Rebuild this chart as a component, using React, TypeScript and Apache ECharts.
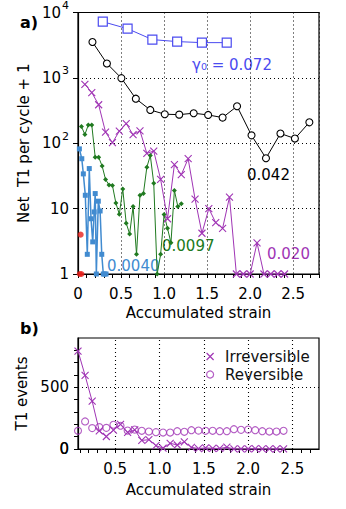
import React, { useEffect, useRef } from 'react';
import * as echarts from 'echarts';

// ---------- Panel a: net T1 per cycle + 1 ----------
const strain072 = [0.288, 0.576, 0.864, 1.152, 1.44, 1.728];
const net072 = [7230, 5650, 3850, 3590, 3460, 3460];

const strain042 = [0.168, 0.336, 0.504, 0.672, 0.84, 1.008, 1.176, 1.344, 1.512, 1.68, 1.848, 2.016, 2.184, 2.352, 2.52, 2.688];
const net042 = [3535, 1660, 990, 480, 323, 278, 274, 288, 271, 247, 368, 132, 59, 141, 118, 209];

const strain020 = [0.08, 0.16, 0.24, 0.32, 0.40, 0.48, 0.56, 0.64, 0.72, 0.80, 0.88, 0.96, 1.04, 1.12, 1.20, 1.28, 1.36, 1.44, 1.52, 1.60, 1.68, 1.76, 1.84, 1.92, 2.00, 2.08, 2.16, 2.24, 2.32, 2.40];
const net020 = [795, 597, 388, 148, 102, 153, 200, 135, 155, 70, 76, 28, 7, 47, 33, 58, 14, 4.2, 10, 6.1, 5, 15, 1, 1, 1, 3, 1, 1, 1, 1];

const strain0097 = [0.04, 0.08, 0.12, 0.16, 0.20, 0.24, 0.28, 0.32, 0.36, 0.40, 0.44, 0.48, 0.52, 0.56, 0.60, 0.64, 0.68, 0.72, 0.76, 0.80, 0.84, 0.88, 0.92, 0.96, 1.00, 1.04, 1.08, 1.12, 1.16, 1.20];
const net0097 = [180, 136, 191, 191, 61, 61, 45, 28, 23, 22.6, 12.2, 8.2, 20, 6, 4.1, 10.8, 2, 16, 17, 43, 65, 24.5, 1, 2, 8.1, 5, 3, 19, 10.8, 11.9];

const strain0040 = [0.016, 0.044, 0.062, 0.085, 0.108, 0.131, 0.151, 0.171, 0.188, 0.200, 0.213, 0.236, 0.257, 0.276, 0.294, 0.310, 0.326];
const net0040 = [82, 58, 34, 16, 2, 41, 7, 3.1, 8.9, 17, 1, 13, 9.2, 2, 1, 1, 1];

const strainRed = [0.02, 0.031, 0.04];
const netRed = [1, 4, 1];

// ---------- Panel b: T1 events ----------
const strainB = [0.08, 0.16, 0.24, 0.32, 0.40, 0.48, 0.56, 0.64, 0.72, 0.80, 0.88, 0.96, 1.04, 1.12, 1.20, 1.28, 1.36, 1.44, 1.52, 1.60, 1.68, 1.76, 1.84, 1.92, 2.00, 2.08, 2.16, 2.24, 2.32, 2.40];
const irreversible = [794, 596, 387, 147, 101, 152, 199, 134, 154, 69, 75, 27, 6, 46, 32, 57, 13, 3, 9, 5, 4, 14, 0, 0, 0, 2, 0, 0, 0, 0];
const reversible = [147, 223, 169, 177, 171, 196, 188, 149, 157, 147, 141, 136, 133, 133, 144, 139, 152, 149, 147, 147, 144, 144, 160, 155, 157, 152, 144, 141, 141, 147];

// tick values
const ticksBMinor = [0.1, 0.2, 0.3, 0.4, 0.5, 0.6, 0.7, 0.8, 0.9, 1.0, 1.1, 1.2, 1.3, 1.4, 1.5, 1.6, 1.7, 1.8, 1.9, 2.0, 2.1, 2.2, 2.3, 2.4, 2.5, 2.6, 2.7];
const ticksBMajor = [0.5, 1.0, 1.5, 2.0, 2.5];
const yTicksB = [0, 100, 200, 300, 400, 500, 600, 700, 800];
const yLabelsB = [0, 500];
const yGridB = [500];

const FONT = 'DejaVu Sans';
const BLUE = '#4b4bf0';
const PURPLE = '#a035b5';
const GREEN = '#207a20';
const LBLUE = '#418bd0';
const RED = '#e8201c';
const XPATH = 'path://M0,0L10,10M10,0L0,10';
const DOT: any = [1, 3];

const pairs = (xs: number[], ys: number[]) => xs.map((x, i) => [x, ys[i]]);

function buildOption(): any {
  const axisLineStyle = { show: true, onZero: false, lineStyle: { color: '#000', width: 1.2 } };
  const xFmt = (v: number) => {
    const r = Math.round(v * 10);
    if (r % 5 !== 0 || r >= 28) return '';
    return r === 0 ? '0' : (r / 10).toFixed(1);
  };
  const dotted = { color: '#000', type: DOT, width: 1.1 };
  return {
    animation: false,
    backgroundColor: '#fff',
    textStyle: { fontFamily: FONT },
    grid: [
      { left: 78, top: 11, width: 241, height: 263, show: true, borderColor: '#000', borderWidth: 1.2 },
      { left: 78, top: 338, width: 241, height: 111, show: true, borderColor: '#000', borderWidth: 1.2 },
    ],
    xAxis: [
      {
        gridIndex: 0, type: 'value', min: 0, max: 2.8, interval: 0.1, position: 'bottom',
        axisLine: axisLineStyle,
        axisTick: { show: true, length: 4, lineStyle: { color: '#000' } },
        axisLabel: { formatter: xFmt, margin: 12, fontSize: 15, color: '#000', fontFamily: FONT, showMinLabel: true },
        splitLine: { show: false },
        name: 'Accumulated strain', nameLocation: 'middle', nameGap: 29,
        nameTextStyle: { fontSize: 15, color: '#000', fontFamily: FONT },
      },
      {
        gridIndex: 0, type: 'value', min: 0, max: 2.8, interval: 0.5, position: 'bottom',
        axisLine: { show: false, onZero: false }, axisTick: { show: false }, axisLabel: { show: false },
        splitLine: { show: true, lineStyle: dotted },
      },
      {
        gridIndex: 1, type: 'value', min: 0.08, max: 2.8, position: 'bottom',
        axisLine: axisLineStyle,
        axisTick: { show: true, length: 4, customValues: ticksBMinor, lineStyle: { color: '#000' } },
        axisLabel: { customValues: ticksBMajor, formatter: (v: number) => v.toFixed(1), margin: 12, fontSize: 15, color: '#000', fontFamily: FONT },
        splitLine: { show: false },
        name: 'Accumulated strain', nameLocation: 'middle', nameGap: 33,
        nameTextStyle: { fontSize: 15, color: '#000', fontFamily: FONT },
      },
    ],
    yAxis: [
      {
        gridIndex: 0, type: 'log', logBase: 10, min: 1, max: 10000,
        axisLine: axisLineStyle,
        axisTick: { show: true, length: 5, lineStyle: { color: '#000' } },
        axisLabel: {
          margin: 9, color: '#000', fontSize: 15, fontFamily: FONT, showMinLabel: true,
          formatter: (v: number) => {
            const e = Math.round(Math.log10(v));
            if (e === 0) return '1';
            if (e === 1) return '10';
            return '{b|10}{s|' + e + '}';
          },
          rich: {
            b: { fontSize: 15, fontFamily: FONT, color: '#000', verticalAlign: 'middle' },
            s: { fontSize: 11, fontFamily: FONT, color: '#000', verticalAlign: 'middle', padding: [0, 0, 14, 1] },
          },
        },
        splitLine: { show: true, lineStyle: dotted },
        name: 'Net  T1 per cycle + 1', nameLocation: 'middle', nameGap: 44, nameRotate: 90,
        nameTextStyle: { fontSize: 15, color: '#000', fontFamily: FONT },
      },
      {
        gridIndex: 1, type: 'value', min: -0.5, max: 900, position: 'left',
        axisLine: axisLineStyle,
        axisTick: { show: true, length: 4, customValues: yTicksB, lineStyle: { color: '#000' } },
        axisLabel: {
          margin: 9, color: '#000', fontSize: 15, fontFamily: FONT,
          customValues: yLabelsB, showMinLabel: true,
          formatter: (v: number) => String(v),
        },
        splitLine: { show: false },
        name: 'T1 events', nameLocation: 'middle', nameGap: 45, nameRotate: 90,
        nameTextStyle: { fontSize: 15, color: '#000', fontFamily: FONT },
      },
    ],
    legend: {
      orient: 'vertical', left: 201, top: 344, itemWidth: 20, itemHeight: 7, itemGap: 3,
      textStyle: { fontSize: 15, color: '#111', fontFamily: FONT },
      data: [
        { name: 'Irreversible', icon: XPATH, itemStyle: { color: 'transparent', borderColor: PURPLE, borderWidth: 1.2 } },
        { name: 'Reversible', icon: 'circle', itemStyle: { color: 'transparent', borderColor: PURPLE, borderWidth: 1.2 } },
      ],
    },
    graphic: [
      { type: 'text', x: 20, y: 22, style: { text: 'a)', fontSize: 16, fontWeight: 'bold', fontFamily: FONT, fill: '#000', verticalAlign: 'middle' } },
      { type: 'text', x: 20, y: 328, style: { text: 'b)', fontSize: 16, fontWeight: 'bold', fontFamily: FONT, fill: '#000', verticalAlign: 'middle' } },
      { type: 'text', x: 69, y: 449, z: 100, style: { text: '0', fontSize: 15, fontFamily: FONT, fill: '#000', align: 'right', verticalAlign: 'middle' } },
      { type: 'text', x: 192, y: 65, style: { text: 'γ₀ = 0.072', fontSize: 15, fontFamily: FONT, fill: BLUE, verticalAlign: 'middle' } },
      { type: 'text', x: 247, y: 175, style: { text: '0.042', fontSize: 15, fontFamily: FONT, fill: '#000', verticalAlign: 'middle' } },
      { type: 'text', x: 267, y: 254, style: { text: '0.020', fontSize: 15, fontFamily: FONT, fill: PURPLE, verticalAlign: 'middle' } },
      { type: 'text', x: 162, y: 246, style: { text: '0.0097', fontSize: 15, fontFamily: FONT, fill: GREEN, verticalAlign: 'middle' } },
      { type: 'text', x: 107, y: 266, style: { text: '0.0040', fontSize: 15, fontFamily: FONT, fill: LBLUE, verticalAlign: 'middle' } },
    ],
    series: [
      {
        name: '0.072', type: 'line', xAxisIndex: 0, yAxisIndex: 0, clip: false,
        data: pairs(strain072, net072), symbol: 'rect', symbolSize: 9,
        itemStyle: { color: '#fff', borderColor: BLUE, borderWidth: 1.2 },
        lineStyle: { color: BLUE, width: 1 },
      },
      {
        name: '0.042', type: 'line', xAxisIndex: 0, yAxisIndex: 0, clip: false,
        data: pairs(strain042, net042), symbol: 'circle', symbolSize: 7,
        itemStyle: { color: '#fff', borderColor: '#000', borderWidth: 1.1 },
        lineStyle: { color: '#000', width: 1 },
      },
      {
        name: '0.020', type: 'line', xAxisIndex: 0, yAxisIndex: 0, clip: false,
        data: pairs(strain020, net020), symbol: XPATH, symbolSize: 7,
        itemStyle: { color: 'transparent', borderColor: PURPLE, borderWidth: 1.1 },
        lineStyle: { color: PURPLE, width: 1 },
      },
      {
        name: '0.0097', type: 'line', xAxisIndex: 0, yAxisIndex: 0, clip: false,
        data: pairs(strain0097, net0097), symbol: 'diamond', symbolSize: 5,
        itemStyle: { color: GREEN },
        lineStyle: { color: GREEN, width: 1 },
      },
      {
        name: '0.0040', type: 'line', xAxisIndex: 0, yAxisIndex: 0, clip: false,
        data: pairs(strain0040, net0040), symbol: 'rect', symbolSize: 5,
        itemStyle: { color: LBLUE },
        lineStyle: { color: LBLUE, width: 1.5 },
      },
      {
        name: 'red', type: 'scatter', xAxisIndex: 0, yAxisIndex: 0, clip: false,
        data: pairs(strainRed, netRed), symbol: 'circle', symbolSize: 6,
        itemStyle: { color: RED },
      },
      {
        name: 'Irreversible', type: 'line', xAxisIndex: 2, yAxisIndex: 1, clip: false,
        data: pairs(strainB, irreversible), symbol: XPATH, symbolSize: 7,
        itemStyle: { color: 'transparent', borderColor: PURPLE, borderWidth: 1.1 },
        lineStyle: { color: PURPLE, width: 1 },
      },
      {
        name: 'Reversible', type: 'scatter', xAxisIndex: 2, yAxisIndex: 1, clip: false,
        data: pairs(strainB, reversible), symbol: 'circle', symbolSize: 7,
        itemStyle: { color: 'transparent', borderColor: PURPLE, borderWidth: 1.1 },
        markLine: {
          silent: true, symbol: ['none', 'none'], label: { show: false }, z: 1,
          lineStyle: dotted,
          data: [
            ...ticksBMajor.map((v) => ({ xAxis: v })),
            ...yGridB.map((v) => ({ yAxis: v })),
          ],
        },
      },
    ],
  };
}

export default function App() {
  const ref = useRef<HTMLDivElement>(null);
  useEffect(() => {
    if (!ref.current) return;
    const chart = echarts.init(ref.current, undefined, { renderer: 'svg' });
    chart.setOption(buildOption());
    return () => chart.dispose();
  }, []);
  return (
    <div
      ref={ref}
      style={{ position: 'absolute', left: 0, top: 0, width: 346, height: 509, background: '#fff' }}
    />
  );
}
